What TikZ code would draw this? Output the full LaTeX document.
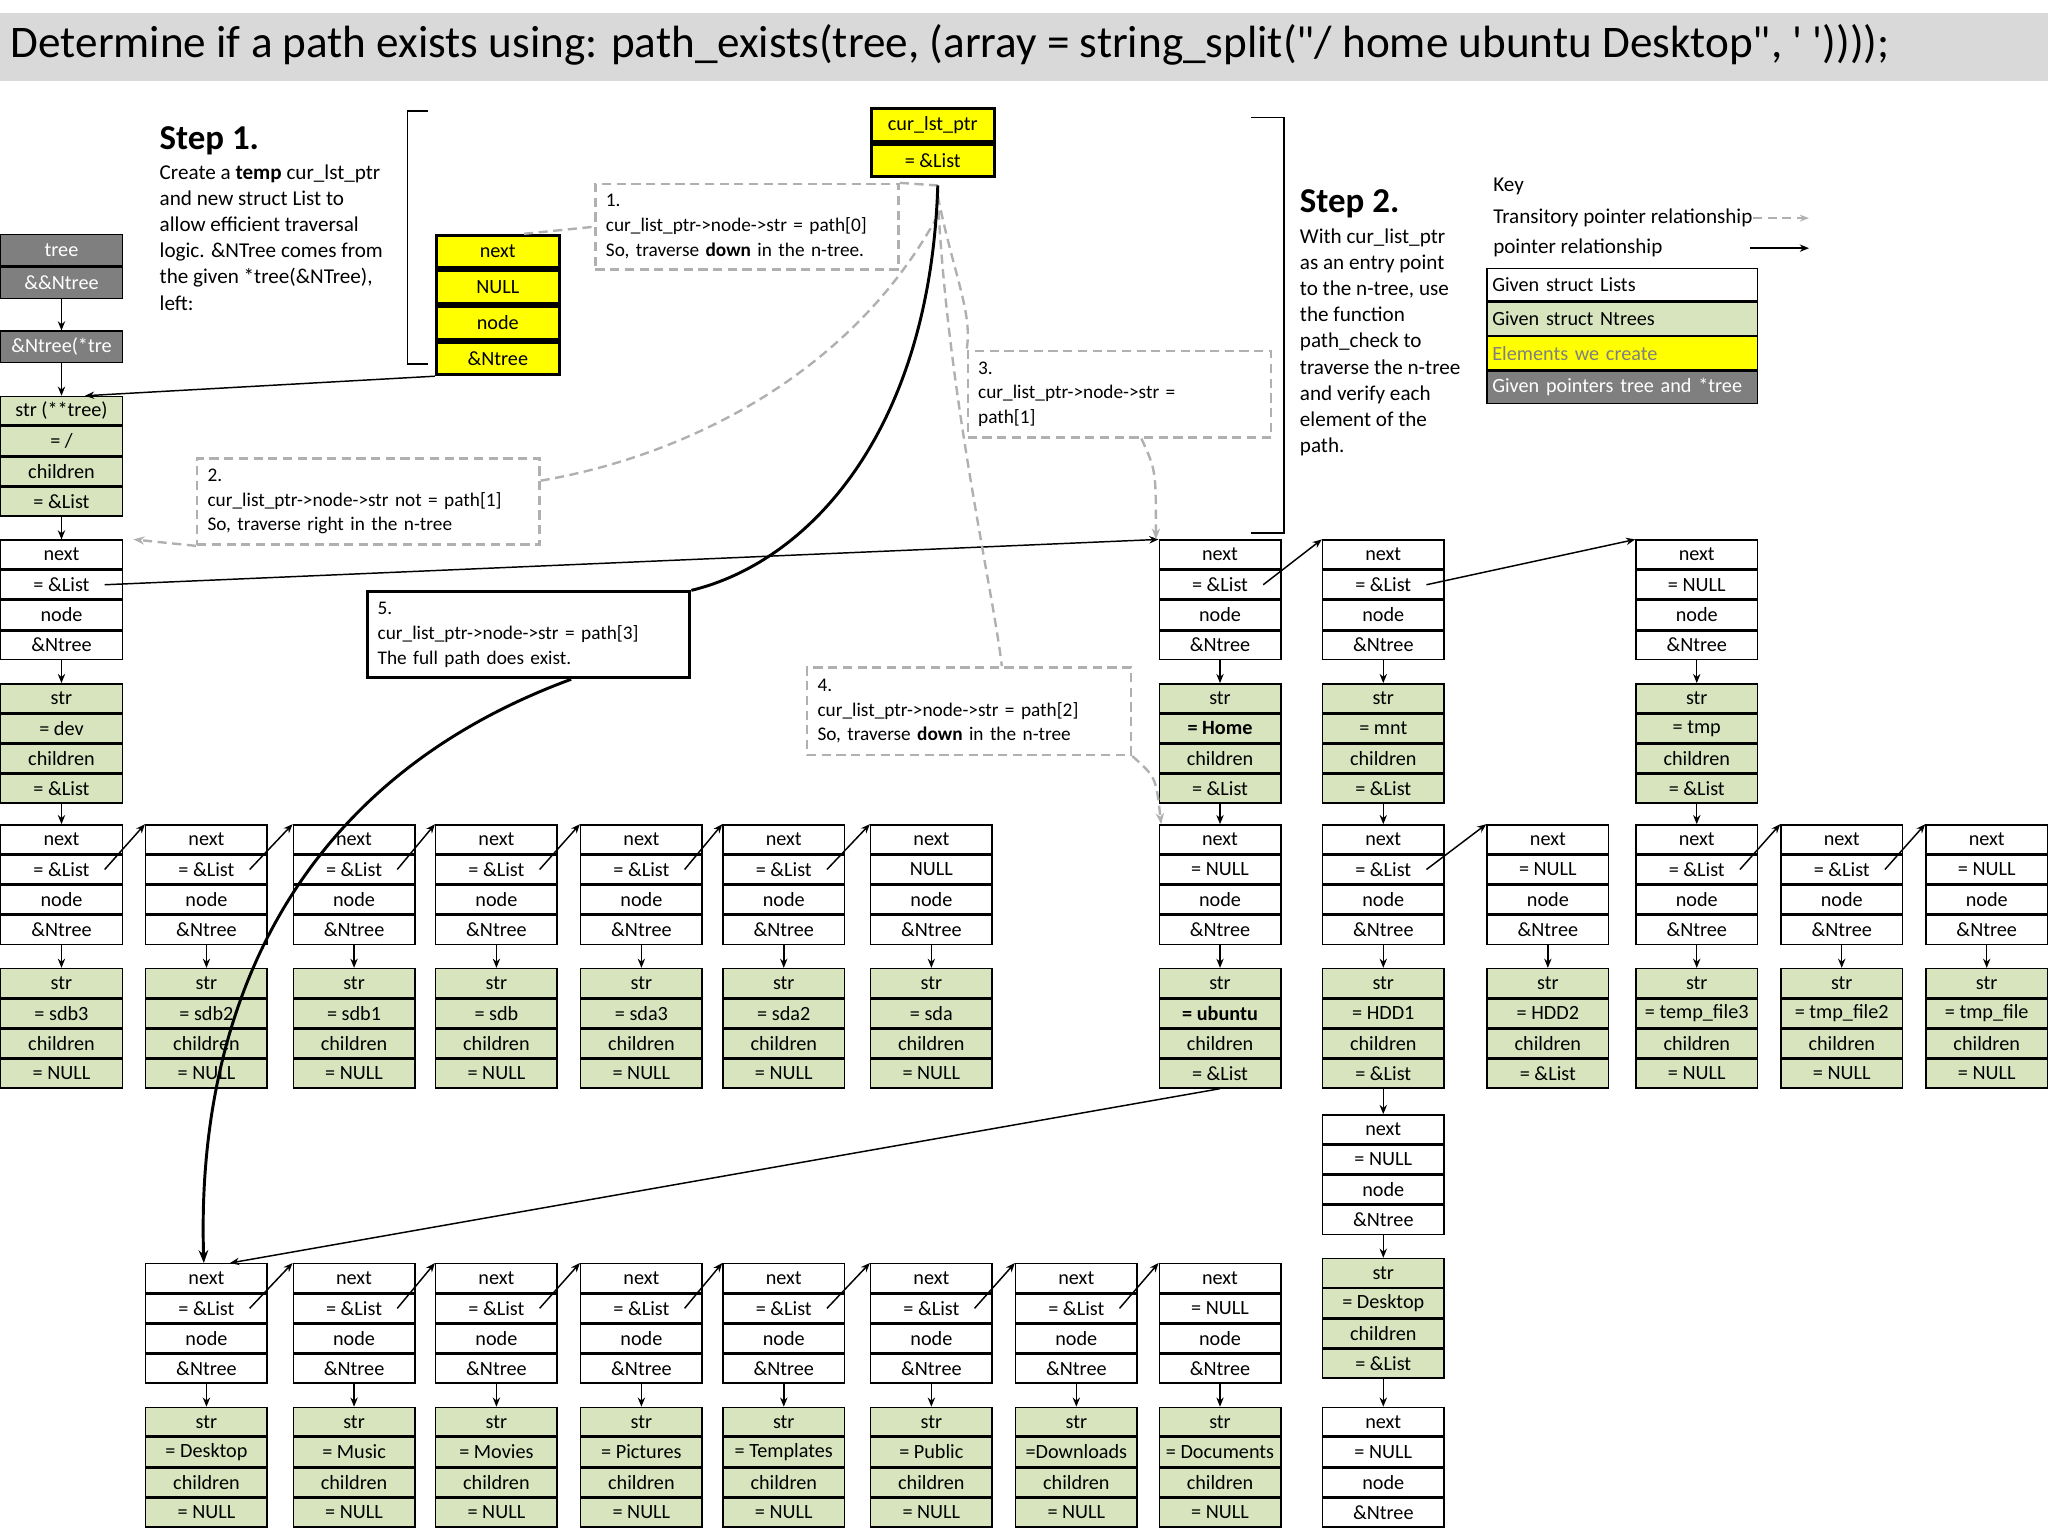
\documentclass[tikz,border=0pt]{standalone}
\usepackage{fontspec}
\setmainfont{Carlito}[Ligatures=TeXOff]
\usetikzlibrary{arrows.meta}
\definecolor{grn}{HTML}{D7E4BD}
\definecolor{yel}{HTML}{FFFF00}
\definecolor{gry}{HTML}{7F7F7F}
\definecolor{bar}{HTML}{D9D9D9}
\definecolor{dsh}{HTML}{B0B0B0}
\tikzset{
 cellb/.style={draw, line width=0.8pt, minimum width=2.325cm, minimum height=0.55cm, inner sep=0pt, font=\fontsize{11}{12}\selectfont, anchor=north west},
 lcell/.style={cellb, fill=white},
 gcell/.style={cellb, fill=grn},
 ycell/.style={cellb, fill=yel, line width=1.6pt, minimum width=2.35cm, minimum height=0.625cm},
 gycell/.style={cellb, fill=gry, text=white, minimum height=0.6cm},
 kcell/.style={cellb, minimum width=5.175cm, minimum height=0.625cm, align=left, text width=4.975cm, inner sep=0.1cm},
 arr/.style={-{Stealth[length=5pt,width=4pt]}, line width=0.8pt},
 dline/.style={dsh, line width=1.3pt, dash pattern=on 5pt off 3pt},
 callout/.style={draw, dline, anchor=north west, align=left, inner sep=0.2cm, text=black, font=\fontsize{10.5}{13.5}\selectfont},
 stxt/.style={anchor=north west, align=left, inner sep=0pt, font=\fontsize{11.5}{14.2}\selectfont},
 shead/.style={anchor=north west, inner sep=0pt, font=\bfseries\fontsize{19}{20}\selectfont},
}
\newcommand\fourcell[8]{%
 \node[#1] (#2a) at (#3,#4) {#5};
 \node[#1] (#2b) at (#2a.south west) {#6};
 \node[#1] (#2c) at (#2b.south west) {#7};
 \node[#1] (#2d) at (#2c.south west) {#8};}
\newcommand\pair[6]{%
 \fourcell{lcell}{#1}{#2}{#3}{next}{#4}{node}{\&Ntree}
 \fourcell{gcell}{#1g}{#2}{#3+110}{str}{#5}{children}{#6}
 \draw[arr] (#1d.south) -- (#1ga.north);}
\newcommand\nxt[2]{\draw[arr] ([xshift=-0.35cm]#1b.east) -- (#2a.north west);}
\begin{document}
\begin{tikzpicture}[x=0.025cm,y=-0.025cm]
\useasboundingbox (0,0) rectangle (1568,1176);
% title
\fill[bar] (0,10) rectangle (1568,62);
\node[anchor=west, inner sep=0pt, font=\fontsize{24.6}{27}\selectfont] (title) at (8,34) {Determine if a path exists using: path\_exists(tree, (array = string\_split("/ home ubuntu Desktop", ' '))));};
% step texts
\node[shead] (s1h) at (122,97) {Step 1.};
\node[stxt] (s1t) at (122,126) {Create a \textbf{temp} cur\_lst\_ptr\\and new struct List to\\allow efficient traversal\\logic. \&NTree comes from\\the given *tree(\&NTree),\\left:};
\node[shead] (s2h) at (995,145) {Step 2.};
\node[stxt] (s2t) at (995,175) {With cur\_list\_ptr\\as an entry point\\to the n-tree, use\\the function\\path\_check to\\traverse the n-tree\\and verify each\\element of the\\path.};
% brackets
\draw[line width=1pt] (328,85) -- (312,85) -- (312,279) -- (328,279);
\draw[line width=1pt] (958,90) -- (983,90) -- (983,408) -- (958,408);
% legend
\node[stxt, anchor=west] (k0) at (1143,143) {Key};
\node[stxt, anchor=west] (k1) at (1143,167) {Transitory pointer relationship};
\coordinate (k1e) at (1385,167);
\draw[dline, -{Stealth[length=5pt]}] (k1.east) -- (k1e);
\node[stxt, anchor=west] (k2) at (1143,190) {pointer relationship};
\coordinate (k2s) at (1340,190); \coordinate (k2e) at (1385,190);
\draw[arr, line width=1.4pt] (k2s) -- (k2e);
\node[kcell, fill=white] (kb1) at (1138,205) {Given struct Lists};
\node[kcell, fill=grn] (kb2) at (kb1.south west) {Given struct Ntrees};
\node[kcell, fill=yel, text=gray] (kb3) at (kb2.south west) {Elements we create};
\node[kcell, fill=gry, text=white] (kb4) at (kb3.south west) {Given pointers tree and *tree};
% grey tree pointers
\node[gycell] (t1) at (0,179) {tree};
\node[gycell] (t2) at (t1.south west) {\&\&Ntree};
\node[gycell] (t3) at (0,253) {\&Ntree(*tre};
\draw[arr] (t2.south) -- (t3.north);
% root
\fourcell{gcell}{R}{0}{303}{str (**tree)}{= /}{children}{= \&List}
\draw[arr] (t3.south) -- (Ra.north);
% yellow
\fourcell{ycell}{Y}{333}{179}{next}{NULL}{node}{\&Ntree}
\node[ycell] (cp1) at (666,82) {cur\_lst\_ptr};
\node[ycell] (cp2) at (cp1.south west) {= \&List};
\draw[arr] (Yd.south west) -- ([xshift=0.45cm]Ra.north);
% row 1
\pair{A}{0}{413}{= \&List}{= dev}{= \&List}
\draw[arr] (Rd.south) -- (Aa.north);
\pair{H}{887}{413}{= \&List}{\textbf{= Home}}{= \&List}
\pair{Mn}{1012}{413}{= \&List}{= mnt}{= \&List}
\pair{Tp}{1252}{413}{= NULL}{= tmp}{= \&List}
\draw[arr] ([xshift=-0.35cm]Ab.east) -- (Ha.north west);
\nxt{H}{Mn}\nxt{Mn}{Tp}
% row 2 left
\foreach \x/\v/\g [count=\i] in {0/{= \&List}/{= sdb3},111/{= \&List}/{= sdb2},224/{= \&List}/{= sdb1},333/{= \&List}/{= sdb},444/{= \&List}/{= sda3},553/{= \&List}/{= sda2},666/{NULL}/{= sda}}{
 \pair{M\i}{\x}{631}{\v}{\g}{= NULL}
}
\foreach \i [evaluate=\i as \j using int(\i+1)] in {1,...,6}{\nxt{M\i}{M\j}}
\draw[arr] (Agd.south) -- (M1a.north);
% row 2 right
\pair{U}{887}{631}{= NULL}{\textbf{= ubuntu}}{= \&List}
\pair{D1}{1012}{631}{= \&List}{= HDD1}{= \&List}
\pair{D2}{1138}{631}{= NULL}{= HDD2}{= \&List}
\pair{F3}{1252}{631}{= \&List}{= temp\_file3}{= NULL}
\pair{F2}{1363}{631}{= \&List}{= tmp\_file2}{= NULL}
\pair{F1}{1474}{631}{= NULL}{= tmp\_file}{= NULL}
\draw[arr] (Hgd.south) -- (Ua.north);
\draw[arr] (Mngd.south) -- (D1a.north);
\draw[arr] (Tpgd.south) -- (F3a.north);
\nxt{D1}{D2}\nxt{F3}{F2}\nxt{F2}{F1}
% HDD1 column
\pair{V}{1012}{853}{= NULL}{= Desktop}{= \&List}
\draw[arr] (D1gd.south) -- (Va.north);
\fourcell{lcell}{W}{1012}{1077}{next}{= NULL}{node}{\&Ntree}
\draw[arr] (Vgd.south) -- (Wa.north);
% bottom row
\foreach \x/\v/\g [count=\i] in {111/{= \&List}/{= Desktop},224/{= \&List}/{= Music},333/{= \&List}/{= Movies},444/{= \&List}/{= Pictures},553/{= \&List}/{= Templates},666/{= \&List}/{= Public},777/{= \&List}/{=Downloads},887/{= NULL}/{= Documents}}{
 \pair{B\i}{\x}{967}{\v}{\g}{= NULL}
}
\foreach \i [evaluate=\i as \j using int(\i+1)] in {1,...,7}{\nxt{B\i}{B\j}}
\draw[arr] (Ugd.south) -- ([xshift=0.45cm]B1a.north);
% callouts
\node[callout, fill=white, text width=5.4cm, minimum height=1.625cm] (c1) at (455,140) {1.\\cur\_list\_ptr->node->str = path[0]\\So, traverse \textbf{down} in the n-tree.};
\node[callout, fill=white, text width=6.15cm, minimum height=1.55cm] (c2) at (150,350) {2.\\cur\_list\_ptr->node->str not = path[1]\\So, traverse right in the n-tree};
\node[callout, fill=white, text width=5.4cm, minimum height=1.55cm] (c3) at (740,268) {3.\\cur\_list\_ptr->node->str =\\path[1]};
\node[callout, fill=white, text width=5.8cm, minimum height=1.675cm] (c4) at (617,510) {4.\\cur\_list\_ptr->node->str = path[2]\\So, traverse \textbf{down} in the n-tree};
\node[callout, fill=white, draw=black, line width=1.6pt, solid, text width=5.775cm, minimum height=1.625cm] (c5) at (280,452) {5.\\cur\_list\_ptr->node->str = path[3]\\The full path does exist.};
% pointer curves
\coordinate (P) at (718,142);
\draw[dline] ([xshift=0.5cm]Ya.north) -- (c1.west);
\draw[dline] (c1.north east) -- (P);
\draw[dline] (718,165) .. controls (650,290) and (520,350) .. ([yshift=-0.45cm]c2.north east);
\draw[dline, -{Stealth[length=6pt]}] (c2.south west) -- ([xshift=0.2cm]Aa.north east);
\draw[dline] (718,150) .. controls (730,210) and (745,240) .. (c3.north west);
\draw[dline, -{Stealth[length=6pt]}] ([xshift=-2.5cm]c3.south east) .. controls (885,360) .. ([xshift=-0.05cm]Ha.north west);
\draw[dline] (718,150) .. controls (725,300) and (760,450) .. ([xshift=3.75cm]c4.north west);
\draw[dline, -{Stealth[length=6pt]}] (c4.south east) .. controls (885,595) .. ([xshift=0.05cm]Ua.north west);
\draw[line width=1.6pt] (P) .. controls (712,330) and (620,430) .. (c5.north east);
\draw[line width=1.6pt, -{Stealth[length=7pt]}] ([xshift=-2.3cm]c5.south east) .. controls (220,600) and (150,780) .. ([xshift=-0.05cm]B1a.north);
\end{tikzpicture}
\end{document}
